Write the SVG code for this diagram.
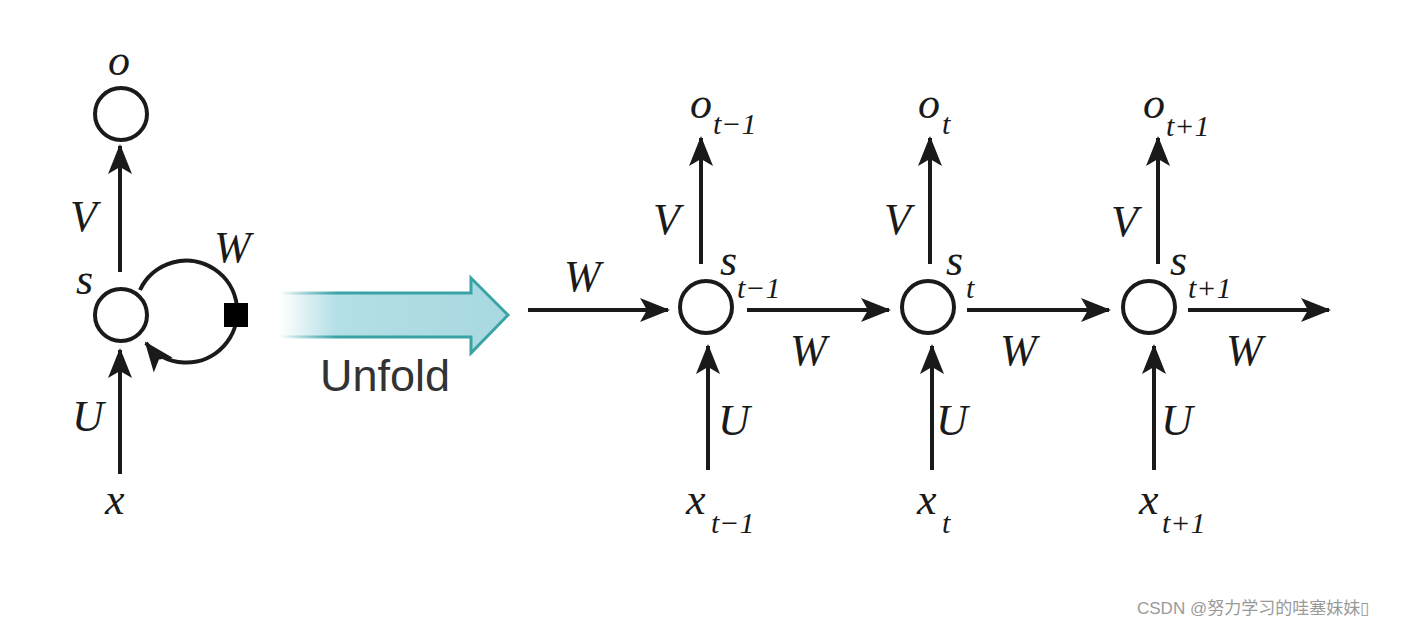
<svg xmlns="http://www.w3.org/2000/svg" width="1409" height="626" viewBox="0 0 1409 626">
<style>
.ln{stroke:#1a1a1a;stroke-width:4;fill:none}
.nd{stroke:#1a1a1a;stroke-width:4;fill:#fff}
.m{font-family:"Liberation Serif","DejaVu Serif",serif;font-style:italic;fill:#1a1a1a;font-size:44px}
.sb{font-family:"Liberation Serif","DejaVu Serif",serif;font-style:italic;fill:#1a1a1a;font-size:30px}
</style>
<defs>
<marker id="ah" markerUnits="userSpaceOnUse" markerWidth="30" markerHeight="26" viewBox="0 0 30 26" refX="28" refY="13" orient="auto">
<path d="M0,1 L30,13 L0,25 L7,13 Z" fill="#1a1a1a"/>
</marker>
<linearGradient id="ug" x1="0" y1="0" x2="1" y2="0">
<stop offset="0" stop-color="#b3dfe6" stop-opacity="0"/>
<stop offset="0.25" stop-color="#b3dfe6" stop-opacity="1"/>
<stop offset="1" stop-color="#a8d8e0"/>
</linearGradient>
<linearGradient id="us" x1="0" y1="0" x2="1" y2="0">
<stop offset="0" stop-color="#3aa3a6" stop-opacity="0"/>
<stop offset="0.25" stop-color="#3aa3a6" stop-opacity="1"/>
<stop offset="1" stop-color="#3aa3a6"/>
</linearGradient>
</defs>
<rect width="1409" height="626" fill="#fff"/>

<g id="connectors">
<line class="ln" x1="120" y1="272" x2="120" y2="146" marker-end="url(#ah)"/>
<line class="ln" x1="120" y1="474" x2="120" y2="350" marker-end="url(#ah)"/>
<path class="ln" d="M140,290 A51,51 0 1 1 146,343" marker-end="url(#ah)"/>
<rect x="224" y="303" width="24" height="24" fill="#000"/>

<line class="ln" x1="528" y1="310" x2="668" y2="310" marker-end="url(#ah)"/>
<line class="ln" x1="701" y1="264" x2="701" y2="138" marker-end="url(#ah)"/>
<line class="ln" x1="708" y1="470" x2="708" y2="346" marker-end="url(#ah)"/>
<line class="ln" x1="747" y1="310" x2="889" y2="310" marker-end="url(#ah)"/>

<line class="ln" x1="930" y1="264" x2="930" y2="138" marker-end="url(#ah)"/>
<line class="ln" x1="932" y1="470" x2="932" y2="346" marker-end="url(#ah)"/>
<line class="ln" x1="967" y1="310" x2="1109" y2="310" marker-end="url(#ah)"/>

<line class="ln" x1="1158" y1="264" x2="1158" y2="138" marker-end="url(#ah)"/>
<line class="ln" x1="1154" y1="470" x2="1154" y2="346" marker-end="url(#ah)"/>
<line class="ln" x1="1188" y1="310" x2="1329" y2="310" marker-end="url(#ah)"/>
</g>

<g id="node-o"><circle class="nd" cx="121" cy="114" r="26"/><text class="m" x="108" y="75">o</text></g>
<g id="node-s"><circle class="nd" cx="121" cy="315" r="26"/><text class="m" x="76" y="294">s</text></g>
<g id="labels-left">
<text class="m" x="70" y="231">V</text>
<text class="m" x="214" y="262">W</text>
<text class="m" x="72" y="431">U</text>
<text class="m" x="105" y="514">x</text>
</g>

<g id="unfold">
<path d="M280,293 L471,293 L471,278 L508,315 L471,353 L471,337 L280,337 Z" fill="url(#ug)" stroke="url(#us)" stroke-width="3"/>
<text x="320" y="391" font-family="'Liberation Sans','DejaVu Sans',sans-serif" font-size="45" fill="#333">Unfold</text>
</g>

<g id="node-s-t-1"><circle class="nd" cx="706" cy="307" r="26"/>
<text class="m" x="720" y="275">s</text><text class="sb" x="737" y="298">t−1</text></g>
<g id="labels-t-1">
<text class="m" x="690" y="118">o</text><text class="sb" x="713" y="134">t−1</text>
<text class="m" x="653" y="234">V</text>
<text class="m" x="564" y="291">W</text>
<text class="m" x="790" y="365">W</text>
<text class="m" x="718" y="435">U</text>
<text class="m" x="686" y="514">x</text><text class="sb" x="711" y="533">t−1</text>
</g>

<g id="node-s-t"><circle class="nd" cx="928" cy="307" r="26"/>
<text class="m" x="946" y="275">s</text><text class="sb" x="966" y="298">t</text></g>
<g id="labels-t">
<text class="m" x="918" y="118">o</text><text class="sb" x="942" y="134">t</text>
<text class="m" x="884" y="234">V</text>
<text class="m" x="1000" y="365">W</text>
<text class="m" x="936" y="435">U</text>
<text class="m" x="917" y="514">x</text><text class="sb" x="942" y="533">t</text>
</g>

<g id="node-s-t1"><circle class="nd" cx="1149" cy="307" r="26"/>
<text class="m" x="1170" y="275">s</text><text class="sb" x="1188" y="298">t+1</text></g>
<g id="labels-t1">
<text class="m" x="1143" y="118">o</text><text class="sb" x="1166" y="136">t+1</text>
<text class="m" x="1111" y="236">V</text>
<text class="m" x="1226" y="365">W</text>
<text class="m" x="1161" y="435">U</text>
<text class="m" x="1139" y="514">x</text><text class="sb" x="1162" y="533">t+1</text>
</g>

<text x="1137" y="614" font-family="'Liberation Sans','Noto Sans CJK SC',sans-serif" font-size="17" fill="#9a9a9a">CSDN @努力学习的哇塞妹妹▯</text>
</svg>
